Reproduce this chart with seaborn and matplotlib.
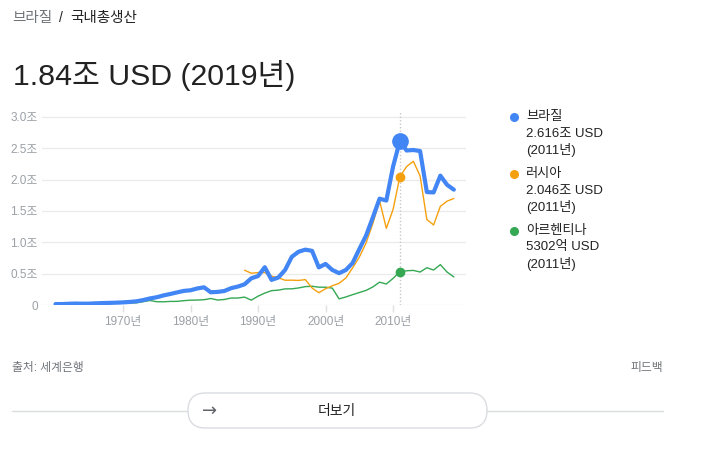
import pandas as pd
import seaborn as sns
import matplotlib.pyplot as plt
from matplotlib.lines import Line2D
from matplotlib.patches import FancyBboxPatch

# GDP, current USD, in 조 (trillions)
brazil_years = list(range(1960, 2020))
brazil = [0.015, 0.015, 0.020, 0.023, 0.021, 0.022, 0.027, 0.031, 0.034, 0.037,
          0.042, 0.049, 0.059, 0.079, 0.105, 0.124, 0.153, 0.176, 0.201, 0.225,
          0.235, 0.264, 0.282, 0.203, 0.209, 0.223, 0.268, 0.294, 0.330, 0.426,
          0.462, 0.603, 0.401, 0.438, 0.558, 0.769, 0.850, 0.883, 0.864, 0.600,
          0.655, 0.559, 0.508, 0.558, 0.669, 0.892, 1.108, 1.397, 1.696, 1.667,
          2.209, 2.616, 2.465, 2.473, 2.456, 1.802, 1.796, 2.064, 1.917, 1.840]

russia_years = list(range(1988, 2020))
russia = [0.555, 0.507, 0.517, 0.518, 0.460, 0.435, 0.395, 0.396, 0.392, 0.405,
          0.271, 0.196, 0.260, 0.307, 0.346, 0.430, 0.591, 0.764, 0.990, 1.300,
          1.661, 1.223, 1.525, 2.046, 2.208, 2.293, 2.059, 1.364, 1.277, 1.574,
          1.657, 1.700]

argentina_years = list(range(1962, 2020))
argentina = [0.024, 0.018, 0.026, 0.028, 0.029, 0.024, 0.026, 0.031, 0.032, 0.033,
             0.035, 0.053, 0.072, 0.052, 0.051, 0.057, 0.058, 0.069, 0.077, 0.079,
             0.084, 0.104, 0.079, 0.088, 0.111, 0.111, 0.126, 0.077, 0.141, 0.190,
             0.229, 0.237, 0.257, 0.258, 0.272, 0.293, 0.299, 0.284, 0.284, 0.269,
             0.098, 0.128, 0.165, 0.199, 0.233, 0.288, 0.364, 0.335, 0.425, 0.530,
             0.546, 0.552, 0.526, 0.595, 0.558, 0.644, 0.525, 0.448]

names = ['브라질', '러시아', '아르헨티나']
colors = ['#4285f4', '#f5a00f', '#34a853']
legend_values = ['2.616조 USD', '2.046조 USD', '5302억 USD']
highlight_year = 2011

y_ticks = [0, 0.5, 1.0, 1.5, 2.0, 2.5, 3.0]
y_labels = ['0', '0.5조', '1.0조', '1.5조', '2.0조', '2.5조', '3.0조']
x_ticks = [1970, 1980, 1990, 2000, 2010]
x_labels = ['1970년', '1980년', '1990년', '2000년', '2010년']

frame = pd.concat([
    pd.DataFrame({'year': brazil_years, 'gdp': brazil, 'country': names[0]}),
    pd.DataFrame({'year': russia_years, 'gdp': russia, 'country': names[1]}),
    pd.DataFrame({'year': argentina_years, 'gdp': argentina, 'country': names[2]}),
])

sns.set_style('white')
plt.rcParams['font.family'] = ['Liberation Sans', 'Noto Sans CJK KR', 'DejaVu Sans']

W, H = 721, 455
fig = plt.figure(figsize=(W / 100, H / 100), dpi=100)


def fx(px):
    return px / W


def fy(py):
    return 1 - py / H


ax = fig.add_axes([fx(42), fy(305), fx(466) - fx(42), (305 - 110.7) / H])

# thin series first, Brazil on top
for name, color, lw, z in [(names[2], colors[2], 1.0, 2),
                           (names[1], colors[1], 1.0, 3),
                           (names[0], colors[0], 3.0, 4)]:
    sns.lineplot(data=frame[frame.country == name], x='year', y='gdp',
                 color=color, linewidth=lw, ax=ax, zorder=z)

# highlight points for 2011
ax.axvline(highlight_year, color='#c8c8c8', linestyle=(0, (1, 1.5)),
           linewidth=1, zorder=1)
for name, color, size in [(names[2], colors[2], 6), (names[1], colors[1], 6),
                          (names[0], colors[0], 11)]:
    sub = frame[(frame.country == name) & (frame.year == highlight_year)]
    ax.plot(sub.year, sub.gdp, 'o', color=color, markersize=size, zorder=5)

ax.set_xlim(1958, 2020.8)
ax.set_ylim(0, 3.1)
ax.set_yticks(y_ticks)
ax.set_yticklabels(y_labels)
ax.set_xticks(x_ticks)
ax.set_xticklabels(x_labels)
ax.grid(axis='y', color='#ebebeb', linewidth=1)
ax.grid(axis='x', visible=False)
ax.set_axisbelow(True)
sns.despine(ax=ax, left=True, bottom=True, top=True, right=True)
ax.tick_params(axis='y', length=0, pad=3, labelsize=8.5, labelcolor='#9aa0a6')
ax.tick_params(axis='x', length=5, width=1, color='#e0e0e0', pad=3,
               labelsize=8.5, labelcolor='#9aa0a6', direction='out', bottom=True)
ax.set_xlabel('')
ax.set_ylabel('')

# header
fig.text(fx(12), fy(18), '브라질', fontsize=10.5, color='#70757a', va='center')
fig.text(fx(59), fy(18), '/', fontsize=10, color='#222222', va='center')
fig.text(fx(70), fy(18), '국내총생산', fontsize=10.5, color='#222222', va='center')
fig.text(fx(13), fy(75), '1.84조 USD (2019년)', fontsize=21.8, color='#222222',
         va='center')

# legend
legend_y = [117, 174, 231]
for name, color, value, y in zip(names, colors, legend_values, legend_y):
    fig.add_artist(Line2D([fx(514)], [fy(y)], marker='o', markersize=5.5,
                          color=color, linestyle='none'))
    for i, line in enumerate([name, value, '(%d년)' % highlight_year]):
        fig.text(fx(526), fy(y + 16.5 * i), line, fontsize=9.5,
                 color='#222222', va='center')

# footer
fig.text(fx(12), fy(368), '출처: 세계은행', fontsize=8.5, color='#70757a',
         va='center')
fig.text(fx(663), fy(368), '피드백', fontsize=8.5, color='#70757a',
         va='center', ha='right')

fig.add_artist(Line2D([fx(12), fx(663)], [fy(411), fy(411)], color='#dadce0',
                      linewidth=1))
fig.patches.append(FancyBboxPatch((188 / 100, (H - 428) / 100), 299 / 100, 35 / 100,
                                  boxstyle='round,pad=0,rounding_size=0.175',
                                  transform=fig.dpi_scale_trans, facecolor='white',
                                  edgecolor='#dadce0', linewidth=1, zorder=3))
fig.text(fx(210), fy(411), '→', fontsize=13, color='#5f6368', va='center',
         ha='center', family=['DejaVu Sans'], zorder=4)
fig.text(fx(337), fy(411), '더보기', fontsize=10, color='#222222', va='center',
         ha='center', zorder=4)

plt.savefig('out.png', dpi=100)
